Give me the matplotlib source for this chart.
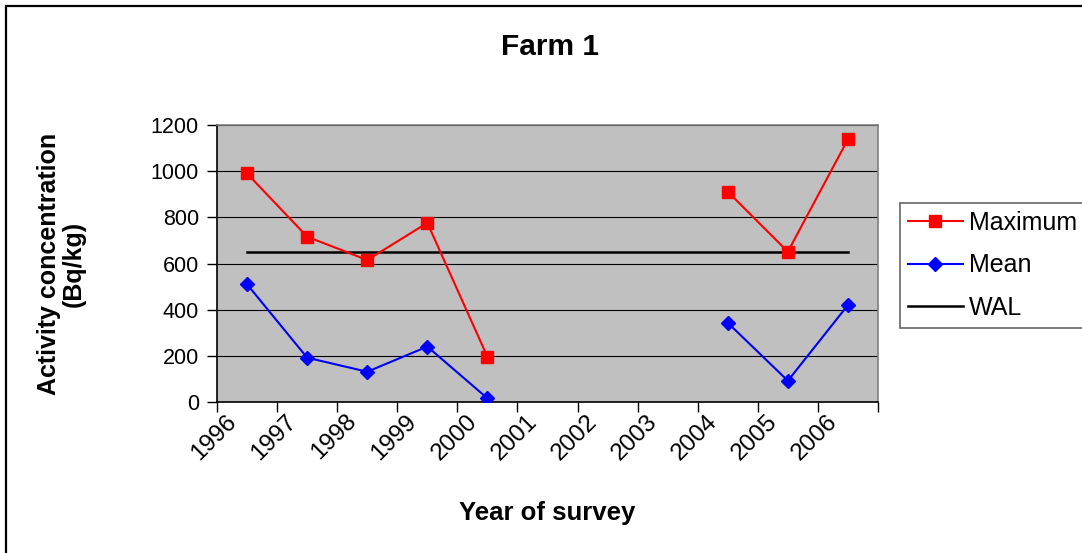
import matplotlib
matplotlib.use('Agg')
import matplotlib.pyplot as plt
import matplotlib.transforms as mtransforms
from matplotlib.patches import Rectangle
import numpy as np

plt.rcParams['font.family'] = ['Liberation Sans', 'DejaVu Sans']

years = ['1996', '1997', '1998', '1999', '2000', '2001', '2002', '2003', '2004', '2005', '2006']
maximum = [990, 716, 615, 776, 196, np.nan, np.nan, np.nan, 911, 651, 1138]
mean = [510, 192, 131, 240, 16, np.nan, np.nan, np.nan, 343, 92, 420]
wal = [650] * len(years)

W, H = 1082, 553
fig = plt.figure(figsize=(W / 100, H / 100), dpi=100)

# outer chart border (only top and left visible in the reference)
fig.patches.append(Rectangle((6 / W, -0.1), 1.2, 1 - 6 / H + 0.1, transform=fig.transFigure,
                             fill=False, edgecolor='black', linewidth=1.6))

ax = fig.add_axes([217 / W, 1 - 402 / H, 661 / W, 277 / H])
ax.set_facecolor('#C0C0C0')

x = np.arange(len(years))
ax.plot(x, maximum, color='#FF0000', lw=1.5, marker='s', ms=8, label='Maximum', zorder=4)
ax.plot(x, mean, color='#0000FF', lw=1.5, marker='D', ms=7, label='Mean', zorder=4)
ax.plot(x, wal, color='black', lw=1.8, label='WAL', zorder=3)

ax.set_xlim(-0.5, len(years) - 0.5)
ax.set_ylim(0, 1200)
ax.set_yticks(range(0, 1201, 200))
ax.yaxis.grid(True, color='black', lw=0.8)
ax.set_axisbelow(True)

ax.set_xticks(x)
ax.set_xticklabels(years, rotation=45, ha='right', va='top', fontsize=17.5)
ax.tick_params(axis='x', which='major', length=0, pad=6)
ax.set_xticks(np.arange(-0.5, len(years)), minor=True)
ax.tick_params(axis='x', which='minor', length=7, width=1, color='black', direction='out')
offset = mtransforms.ScaledTranslation(-6 / 100, 0, fig.dpi_scale_trans)
for lbl in ax.get_xticklabels():
    lbl.set_transform(lbl.get_transform() + offset)

ax.tick_params(axis='y', length=7, width=1, labelsize=15.5, pad=6)

ax.spines['left'].set_color('black')
ax.spines['bottom'].set_color('black')
ax.spines['top'].set_color('#808080')
ax.spines['right'].set_color('#808080')
for s in ax.spines.values():
    s.set_linewidth(1.2)

fig.text(550 / W, 1 - 47 / H, 'Farm 1', ha='center', va='center', fontsize=21.5, fontweight='bold')
fig.text(547 / W, 1 - 513 / H, 'Year of survey', ha='center', va='center', fontsize=18.5, fontweight='bold')
fig.text(61 / W, 1 - 264 / H, 'Activity concentration\n(Bq/kg)', ha='center', va='center',
         rotation=90, fontsize=18, fontweight='bold', multialignment='center', linespacing=1.05)

leg = ax.legend(loc='upper left', bbox_to_anchor=(900 / W, 1 - 203 / H), bbox_transform=fig.transFigure,
                borderaxespad=0, fontsize=18, frameon=True, fancybox=False, handlelength=2.2,
                handletextpad=0.25, labelspacing=0.75, borderpad=0.3)
leg.get_frame().set_edgecolor('#404040')
leg.get_frame().set_linewidth(1.2)

fig.savefig('out.png', dpi=100)
